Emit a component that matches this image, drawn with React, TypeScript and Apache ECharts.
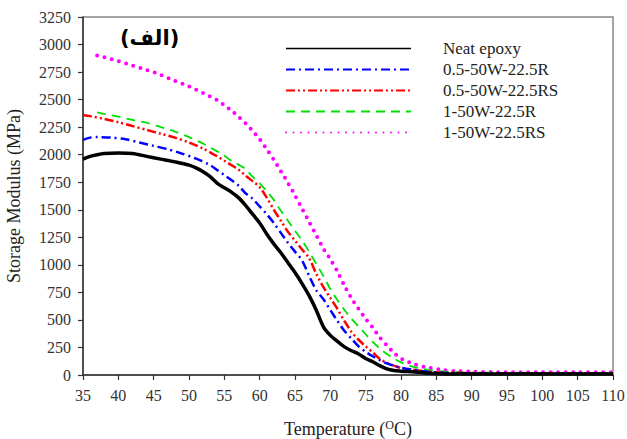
import React, { useEffect, useRef } from "react";
import * as echarts from "echarts";

const seriesNames = ["Neat epoxy", "0.5-50W-22.5R", "0.5-50W-22.5RS", "1-50W-22.5R", "1-50W-22.5RS"];

const neatT = [35, 36, 37, 38, 40, 42, 44, 46, 48, 50, 51, 52, 53, 54, 55, 56, 57, 58, 59, 60, 61, 62, 63, 64, 65, 66, 67, 68, 69, 70, 71, 72, 73, 74, 75, 76, 77, 78, 79, 80, 82, 84, 86, 90, 95, 100, 105, 110];
const neatV = [1960, 1985, 2000, 2010, 2015, 2010, 1985, 1960, 1935, 1905, 1880, 1845, 1800, 1740, 1700, 1660, 1610, 1540, 1460, 1380, 1280, 1190, 1110, 1020, 930, 830, 720, 590, 440, 360, 305, 255, 220, 190, 150, 120, 85, 55, 40, 35, 28, 15, 10, 8, 8, 8, 8, 8];

const blueT = [35, 36, 37, 39, 41, 43, 45, 47, 49, 51, 53, 54, 55, 56, 57, 58, 59, 60, 61, 62, 63, 64, 65, 66, 67, 68, 69, 70, 71, 72, 73, 74, 75, 76, 77, 78, 79, 80, 82, 84, 86, 90, 95, 100, 105, 110];
const blueV = [2135, 2155, 2160, 2155, 2140, 2110, 2080, 2050, 2010, 1965, 1905, 1860, 1815, 1770, 1720, 1650, 1600, 1530, 1460, 1380, 1290, 1200, 1120, 1040, 900, 770, 690, 590, 490, 400, 330, 260, 210, 170, 135, 105, 85, 65, 45, 28, 20, 15, 12, 12, 12, 12];

const redT = [35, 36, 38, 40, 42, 44, 46, 48, 50, 52, 54, 55, 56, 57, 58, 59, 60, 61, 62, 63, 64, 65, 66, 67, 68, 69, 70, 71, 72, 73, 74, 75, 76, 77, 78, 79, 80, 82, 84, 86, 90, 95, 100, 105, 110];
const redV = [2360, 2350, 2325, 2295, 2260, 2225, 2190, 2155, 2110, 2055, 1985, 1945, 1905, 1865, 1810, 1760, 1705, 1610, 1500, 1400, 1300, 1220, 1140, 1060, 920, 800, 700, 600, 490, 390, 320, 260, 205, 145, 110, 85, 65, 45, 30, 22, 18, 15, 15, 15, 15];

const greenT = [37, 38, 40, 42, 44, 46, 48, 50, 52, 54, 55, 56, 57, 58, 59, 60, 61, 62, 63, 64, 65, 66, 67, 68, 69, 70, 71, 72, 73, 74, 75, 76, 77, 78, 79, 80, 81, 82, 84, 86, 88, 90, 95, 100, 105, 110];
const greenV = [2385, 2370, 2345, 2315, 2290, 2250, 2210, 2160, 2100, 2030, 1990, 1945, 1910, 1870, 1800, 1740, 1670, 1590, 1490, 1400, 1310, 1220, 1120, 1010, 900, 780, 680, 590, 510, 440, 370, 300, 240, 190, 150, 115, 90, 70, 45, 33, 25, 22, 20, 20, 20, 20];

const pinkT = [37, 38, 40, 42, 44, 46, 48, 50, 52, 54, 55, 56, 57, 58, 59, 60, 61, 62, 63, 64, 65, 66, 67, 68, 69, 70, 71, 72, 73, 74, 75, 76, 77, 78, 79, 80, 81, 82, 84, 86, 88, 90, 95, 100, 105, 110];
const pinkV = [2900, 2885, 2850, 2810, 2770, 2725, 2670, 2620, 2560, 2495, 2450, 2400, 2345, 2285, 2215, 2140, 2050, 1955, 1850, 1745, 1630, 1510, 1390, 1270, 1150, 1050, 940, 810, 695, 600, 510, 430, 340, 270, 200, 150, 120, 95, 65, 45, 35, 30, 25, 25, 25, 25];

const xTicks = { min: 35, max: 110, interval: 5 };
const yTicks = { min: 0, max: 3250, interval: 250 };

const zip = (t: number[], v: number[]) => t.map((x, i) => [x, v[i]]);

export default function App() {
  const ref = useRef<HTMLDivElement>(null);
  useEffect(() => {
    if (!ref.current) return;
    const chart = echarts.init(ref.current, null, { renderer: "svg" });
    const font = "Liberation Serif";
    const styles = [
      { color: "#000000", width: 3.5, type: "solid" as any, cap: "butt" },
      { color: "#0000ff", width: 2.5, type: [9, 4, 2, 4], cap: "butt" },
      { color: "#ff0000", width: 2.5, type: [9, 3, 2, 3, 2, 3], cap: "butt" },
      { color: "#00e000", width: 1.8, type: [9, 6], cap: "butt" },
      { color: "#ff00ff", width: 4, type: [0, 7.5], cap: "round" },
    ];
    const datas = [zip(neatT, neatV), zip(blueT, blueV), zip(redT, redV), zip(greenT, greenV), zip(pinkT, pinkV)];
    chart.setOption({
      animation: false,
      textStyle: { fontFamily: font },
      grid: {
        left: 83, right: 14, top: 17, bottom: 64,
        containLabel: false, outerBoundsMode: "none",
        show: true, borderColor: "#888", borderWidth: 1.5, backgroundColor: "transparent",
      },
      graphic: [
        {
          type: "text",
          left: 120,
          top: 27,
          style: { text: "(الف)", font: "bold 21px 'DejaVu Sans'", fill: "#000" },
        },
      ],
      legend: {
        orient: "vertical",
        left: 285,
        top: 40,
        itemWidth: 125,
        itemHeight: 14,
        itemGap: 4,
        padding: 0,
        itemStyle: { opacity: 0 },
        textStyle: { fontFamily: font, fontSize: 17, lineHeight: 14, color: "#222", padding: [0, 0, 0, 27] },
        data: seriesNames.map((n, i) => (i === 0 ? { name: n, lineStyle: { width: 1.5 } } : { name: n })),
      },
      xAxis: {
        type: "value",
        min: xTicks.min,
        max: xTicks.max,
        interval: xTicks.interval,
        splitLine: { show: false },
        axisLine: { lineStyle: { color: "#333", width: 1.5 } },
        axisTick: { show: true, length: 5, lineStyle: { color: "#333", width: 1.2 } },
        axisLabel: { fontFamily: font, fontSize: 16, color: "#333", margin: 12 },
        name: "Temperature ({s|O}C)",
        nameLocation: "middle",
        nameGap: 44,
        nameTextStyle: {
          fontFamily: font,
          fontSize: 18,
          color: "#222",
          rich: { s: { fontFamily: font, fontSize: 12, color: "#222", verticalAlign: "top", padding: [0, 0, 8, 0] } },
        },
      },
      yAxis: {
        type: "value",
        min: yTicks.min,
        max: yTicks.max,
        interval: yTicks.interval,
        splitLine: { show: false },
        axisLine: { show: true, lineStyle: { color: "#333", width: 1.5 } },
        axisTick: { show: true, length: 5, lineStyle: { color: "#333", width: 1.2 } },
        axisLabel: { fontFamily: font, fontSize: 16, color: "#333", margin: 12, formatter: (v: number) => String(v) },
        name: "Storage Modulus (MPa)",
        nameLocation: "middle",
        nameGap: 60,
        nameTextStyle: { fontFamily: font, fontSize: 18, color: "#222" },
      },
      series: seriesNames.map((n, i) => ({
        name: n,
        type: "line",
        data: datas[i],
        symbol: "none",
        smooth: 0.3,
        z: 10 - i,
        lineStyle: { color: styles[i].color, width: styles[i].width, type: styles[i].type, cap: styles[i].cap },
        itemStyle: { color: styles[i].color },
      })),
    });
    return () => chart.dispose();
  }, []);
  return <div ref={ref} style={{ width: 627, height: 439, position: "absolute", left: 0, top: 0 }} />;
}
